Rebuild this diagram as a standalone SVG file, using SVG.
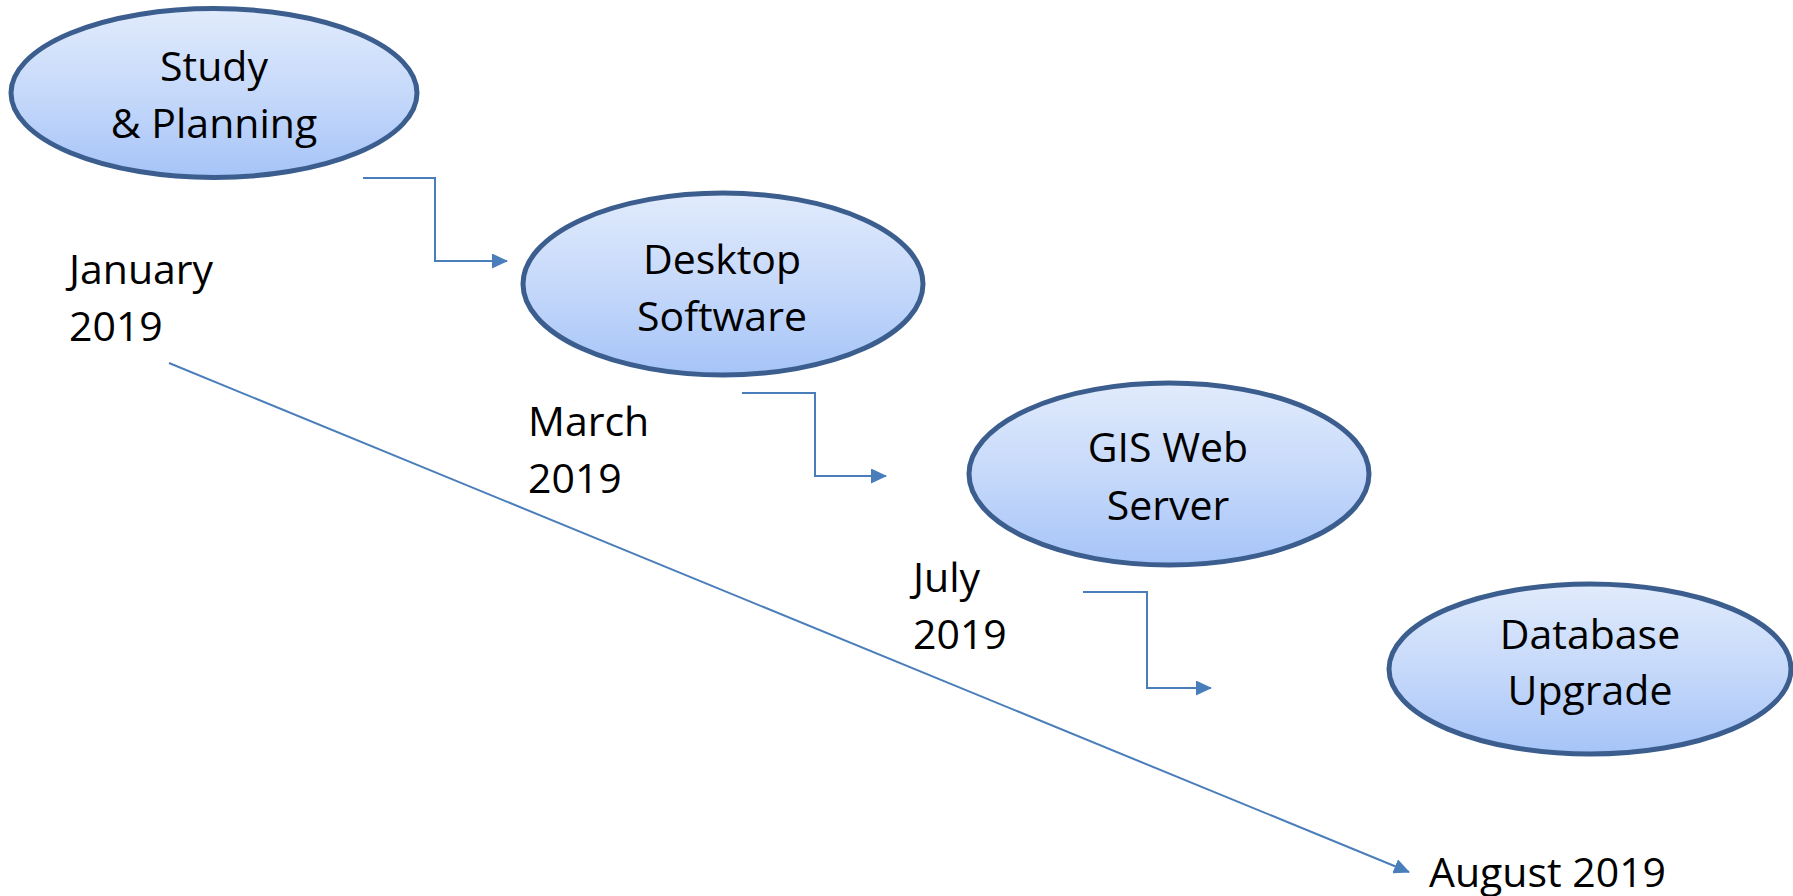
<svg xmlns="http://www.w3.org/2000/svg" width="1793" height="896" viewBox="0 0 1793 896">
<defs>
<linearGradient id="g" x1="0" y1="0" x2="0" y2="1">
<stop offset="0" stop-color="#E1EBFC"/>
<stop offset="0.5" stop-color="#C6D9FA"/>
<stop offset="1" stop-color="#A6C4F8"/>
</linearGradient>
<marker id="ah" viewBox="0 0 16 15" refX="15" refY="7.5" markerWidth="16" markerHeight="15" markerUnits="userSpaceOnUse" orient="auto">
<path d="M0,0 L16,7.5 L0,15 z" fill="#4A7EBB"/>
</marker>
<style>
.node ellipse{fill:url(#g);stroke:#3B5E8E;stroke-width:5}
text{font-family:"Open Sans","Liberation Sans",sans-serif;font-size:41px;fill:#000}
.c{text-anchor:middle}
.conn path{fill:none;stroke:#4A7EBB;stroke-width:2}
</style>
</defs>
<g id="connectors" class="conn">
<path d="M363,178 H435 V261 H507" marker-end="url(#ah)"/>
<path d="M742,393 H815 V476 H886" marker-end="url(#ah)"/>
<path d="M1083,592 H1147 V688 H1211" marker-end="url(#ah)"/>
<path d="M169,363 L1409,872" marker-end="url(#ah)"/>
</g>
<g id="n1" class="node">
<ellipse cx="214" cy="93" rx="203" ry="84.5"/>
<text class="c" x="214" y="81">Study</text>
<text class="c" x="214" y="138">&amp; Planning</text>
</g>
<g id="n2" class="node">
<ellipse cx="723" cy="284" rx="200" ry="91"/>
<text class="c" x="722" y="274">Desktop</text>
<text class="c" x="722" y="331">Software</text>
</g>
<g id="n3" class="node">
<ellipse cx="1169" cy="474" rx="200" ry="91"/>
<text class="c" x="1168" y="462">GIS Web</text>
<text class="c" x="1168" y="520">Server</text>
</g>
<g id="n4" class="node">
<ellipse cx="1590" cy="669" rx="201" ry="85"/>
<text class="c" x="1590" y="649">Database</text>
<text class="c" x="1590" y="705">Upgrade</text>
</g>
<g id="labels">
<text x="69" y="284">January</text>
<text x="69" y="341">2019</text>
<text x="528" y="436">March</text>
<text x="528" y="493">2019</text>
<text x="913" y="592">July</text>
<text x="913" y="649">2019</text>
<text x="1429" y="887">August 2019</text>
</g>
</svg>
